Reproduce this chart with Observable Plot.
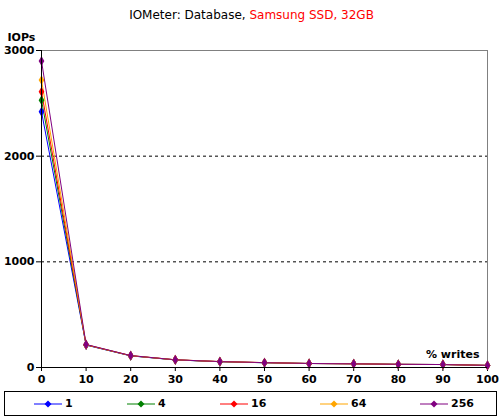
<!DOCTYPE html>
<html><head><meta charset="utf-8">
<script src="https://cdn.jsdelivr.net/npm/d3@7"></script>
<script src="https://cdn.jsdelivr.net/npm/@observablehq/plot@0.6"></script>
<style>
body{margin:0;background:#fff;font-family:"DejaVu Sans",Verdana,sans-serif;}
#wrap{width:503px;height:419px;position:relative;}
#title{position:absolute;top:7px;left:0;width:503px;text-align:center;font-size:12px;line-height:16px;color:#000;}
#title .red{color:#f00;}
#chart{position:absolute;top:28px;left:0;}
#legend{position:absolute;left:4px;top:391px;width:491px;height:23px;border:1px solid #000;box-sizing:content-box;}
.item{position:absolute;top:0;height:23px;display:flex;align-items:center;font-size:11px;font-weight:bold;}
.item svg{margin-right:3px;}
</style></head>
<body><div id="wrap">
<div id="title">IOMeter: Database, <span class="red">Samsung SSD, 32GB</span></div>
<div id="chart"></div>
<div id="legend"></div>
</div>
<script>
const writes = [0,10,20,30,40,50,60,70,80,90,100];
const queueDepths = ["1","4","16","64","256"];
const colors = ["#0000ff","#008000","#ff0000","#ffa500","#800080"];
const iops1   = [2420,212,110,72,55,45,38,35,30,28,20];
const iops4   = [2530,214,111,72,55,45,38,35,30,28,20];
const iops16  = [2610,215,112,73,56,46,38,35,30,28,20];
const iops64  = [2720,216,112,73,56,46,38,35,30,28,20];
const iops256 = [2900,218,113,73,56,46,38,35,30,28,20];
const yTicks = [0,1000,2000,3000];
const xTicks = [0,10,20,30,40,50,60,70,80,90,100];
const legendX = [29,122,215,315,415];

const seriesVals = [iops1,iops4,iops16,iops64,iops256];
const data = [];
queueDepths.forEach((q,i)=>writes.forEach((w,j)=>data.push({q, w, v: seriesVals[i][j]})));

const color = {domain: queueDepths, range: colors};
const chart = Plot.plot({
  width: 503, height: 362,
  marginLeft: 41, marginRight: 16, marginTop: 22, marginBottom: 23,
  style: {fontFamily: '"DejaVu Sans",Verdana,sans-serif', fontSize: "11px", fontWeight: "bold", color: "#000", background: "#fff"},
  x: {domain: [0,100], ticks: xTicks, tickSize: 4, tickPadding: 4, label: null, tickFormat: d3.format("d")},
  y: {domain: [0,3000], ticks: yTicks, tickSize: 5, tickPadding: 2, label: null, tickFormat: d3.format("d")},
  color,
  marks: [
    Plot.ruleY([1000,2000], {stroke: "#000", strokeDasharray: "3,3"}),
    Plot.ruleY([3000], {stroke: "#808080"}),
    Plot.ruleX([100], {stroke: "#808080"}),
    Plot.line(data, {x: "w", y: "v", z: "q", stroke: "q", strokeWidth: 1}),
    Plot.dot(data, {x: "w", y: "v", fill: "q", symbol: "diamond", r: 3}),
    Plot.ruleY([0], {stroke: "#000"}),
    Plot.ruleX([0], {stroke: "#000"}),
    Plot.text(["% writes"], {frameAnchor: "bottom-right", dx: -8, dy: -10, textAnchor: "end", fontWeight: "bold", fontSize: 11}),
    Plot.text(["IOPs"], {frameAnchor: "top-left", dx: -34, dy: -17, textAnchor: "start", fontWeight: "bold", fontSize: 11})
  ]
});
document.getElementById("chart").appendChild(chart);

const leg = document.getElementById("legend");
queueDepths.forEach((q,i)=>{
  const div = document.createElement("div");
  div.className = "item";
  div.style.left = legendX[i] + "px";
  div.innerHTML = `<svg width="28" height="10"><line x1="0" y1="5" x2="28" y2="5" stroke="${colors[i]}" stroke-width="1"/><path d="M14,1.5 L17.5,5 L14,8.5 L10.5,5 Z" fill="${colors[i]}"/></svg><span>${q}</span>`;
  leg.appendChild(div);
});
</script>
</body></html>
